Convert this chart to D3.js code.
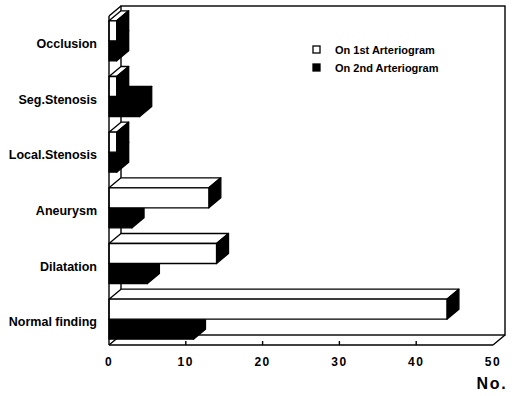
<!DOCTYPE html>
<html>
<head>
<meta charset="utf-8">
<script src="https://cdn.jsdelivr.net/npm/d3@7"></script>
<style>
  body { margin: 0; background: #fff; }
  text { font-family: "Liberation Sans", Arial, sans-serif; font-weight: bold; fill: #000; }
</style>
</head>
<body>
<svg id="chart" width="516" height="396"></svg>
<script>
var categories = ["Occlusion", "Seg.Stenosis", "Local.Stenosis", "Aneurysm", "Dilatation", "Normal finding"];
var firstArt = [1, 1, 1, 13, 14, 44];   // On 1st Arteriogram (white)
var secondArt = [1, 4, 1, 3, 5, 11];    // On 2nd Arteriogram (black)
var xTicks = [0, 10, 20, 30, 40, 50];
var legendLabels = ["On 1st Arteriogram", "On 2nd Arteriogram"];

var svg = d3.select("#chart");
var dx = 12, dy = 10;   // depth offset of the 3d box
var barH = 20;

var x = d3.scaleLinear().domain([0, 50]).range([109, 493]);
var y = d3.scaleBand().domain(categories).range([13, 347]);
var floorY = 345;
var topY = 16;

// back wall + floor
var frame = svg.append("g").attr("fill", "none").attr("stroke", "#000").attr("stroke-width", 1.4);
frame.append("rect")
    .attr("x", x(0) + dx).attr("y", topY - dy)
    .attr("width", x(50) - x(0)).attr("height", floorY - topY);
frame.append("path")
    .attr("d", "M" + x(0) + "," + topY + "L" + (x(0) + dx) + "," + (topY - dy) +
               "M" + x(0) + "," + floorY + "L" + (x(0) + dx) + "," + (floorY - dy) +
               "M" + x(50) + "," + floorY + "L" + (x(50) + dx) + "," + (floorY - dy));

function bar(g, v, yTop, front, top, side) {
  var x0 = x(0), x1 = x(v);
  g.append("polygon")
    .attr("points", [[x0, yTop], [x0 + dx, yTop - dy], [x1 + dx, yTop - dy], [x1, yTop]].join(" "))
    .attr("fill", top);
  g.append("polygon")
    .attr("points", [[x1, yTop], [x1 + dx, yTop - dy], [x1 + dx, yTop + barH - dy], [x1, yTop + barH]].join(" "))
    .attr("fill", side);
  g.append("rect")
    .attr("x", x0).attr("y", yTop)
    .attr("width", x1 - x0).attr("height", barH)
    .attr("fill", front);
}

var bars = svg.append("g").attr("stroke", "#000").attr("stroke-width", 1.3).attr("stroke-linejoin", "round");
categories.forEach(function(c, i) {
  var mid = y(c) + y.bandwidth() / 2;
  bar(bars, secondArt[i], mid, "#000", "#000", "#000");
  bar(bars, firstArt[i], mid - barH, "#fff", "#fff", "#000");
});

// front axis
var axis = svg.append("g").attr("stroke", "#000").attr("stroke-width", 1.4);
axis.append("line").attr("x1", x(0)).attr("x2", x(50)).attr("y1", floorY).attr("y2", floorY);
axis.append("line").attr("x1", x(0)).attr("x2", x(0)).attr("y1", topY).attr("y2", floorY);
axis.selectAll(".tick")
  .data(xTicks.slice(1, -1))
  .enter().append("line")
    .attr("x1", function(d) { return x(d); }).attr("x2", function(d) { return x(d); })
    .attr("y1", floorY).attr("y2", floorY - 4);

svg.append("g").selectAll("text")
  .data(xTicks)
  .enter().append("text")
    .attr("x", function(d) { return x(d); })
    .attr("y", 362)
    .attr("text-anchor", "middle")
    .attr("dominant-baseline", "central")
    .attr("font-size", 12)
    .attr("letter-spacing", 1.5)
    .text(function(d) { return d; });

svg.append("text")
    .attr("x", 492).attr("y", 383)
    .attr("text-anchor", "middle")
    .attr("dominant-baseline", "central")
    .attr("font-size", 16)
    .attr("letter-spacing", 1.8)
    .text("No.");

// category labels
svg.append("g").selectAll("text")
  .data(categories)
  .enter().append("text")
    .attr("x", 97)
    .attr("y", function(d) { return y(d) + y.bandwidth() / 2 + 3; })
    .attr("text-anchor", "end")
    .attr("dominant-baseline", "central")
    .attr("font-size", 12.5)
    .text(function(d) { return d; });

// legend
var leg = svg.append("g").selectAll("g")
  .data(legendLabels)
  .enter().append("g")
    .attr("transform", function(d, i) { return "translate(313," + (46 + i * 18) + ")"; });
leg.append("rect")
    .attr("width", 7).attr("height", 7)
    .attr("fill", function(d, i) { return i ? "#000" : "#fff"; })
    .attr("stroke", "#000").attr("stroke-width", 1.3);
leg.append("text")
    .attr("x", 22).attr("y", 3.5)
    .attr("dominant-baseline", "central")
    .attr("font-size", 11)
    .text(function(d) { return d; });
</script>
</body>
</html>
